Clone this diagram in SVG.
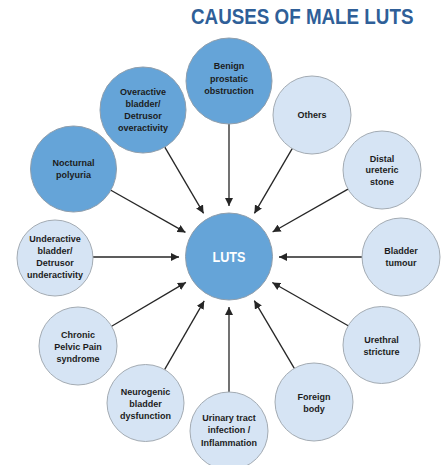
<svg xmlns="http://www.w3.org/2000/svg" width="445" height="465" viewBox="0 0 445 465">
<style>
.dk{fill:#65a4d8;stroke:#8f9eac;stroke-width:1}
.lt{fill:#d6e4f4;stroke:#a3abb3;stroke-width:1}
.t{font-family:"Liberation Sans",Arial,sans-serif;font-weight:bold;font-size:9px;fill:#1c1c1c;text-anchor:middle}
.c line{stroke:#262626;stroke-width:1.3;marker-end:url(#ah)}
</style>
<defs>
<marker id="ah" viewBox="0 0 10 10" refX="10" refY="5" markerWidth="8" markerHeight="8" markerUnits="userSpaceOnUse" orient="auto">
<path d="M0,0 L10,5 L0,10 z" fill="#262626"/>
</marker>
</defs>
<rect width="445" height="465" fill="#ffffff"/>
<text transform="translate(191,24) scale(0.855,1)" x="0" y="0" font-family="'Liberation Sans',Arial,sans-serif" font-weight="bold" font-size="22" fill="#2f5f98">CAUSES OF MALE LUTS</text>
<g class="c" id="connectors">
<line x1="229" y1="124" x2="229" y2="206"/>
<line x1="164.8" y1="147.1" x2="203.6" y2="213.4"/>
<line x1="292.2" y1="148.6" x2="254.4" y2="213.4"/>
<line x1="348" y1="189.1" x2="272.6" y2="232"/>
<line x1="362" y1="257" x2="279" y2="257"/>
<line x1="348.2" y1="325.8" x2="272.3" y2="282.5"/>
<line x1="294.3" y1="368.4" x2="254.3" y2="300.6"/>
<line x1="229" y1="392" x2="229" y2="307"/>
<line x1="164.6" y1="369.6" x2="204.2" y2="300.9"/>
<line x1="111.6" y1="326.2" x2="185.9" y2="282.4"/>
<line x1="93" y1="257" x2="179" y2="257"/>
<line x1="110.9" y1="190.2" x2="185.5" y2="232.4"/>
</g>
<g id="luts"><circle class="dk" cx="229" cy="256.5" r="43.5"/><text x="229" y="262" font-family="'Liberation Sans',Arial,sans-serif" font-weight="bold" font-size="14.5" fill="#ffffff" text-anchor="middle" textLength="33" lengthAdjust="spacingAndGlyphs">LUTS</text></g>
<g id="benign"><circle class="dk" cx="229" cy="81" r="43"/><text class="t" x="229" y="69">Benign<tspan x="229" dy="12.5">prostatic</tspan><tspan x="229" dy="12.5">obstruction</tspan></text></g>
<g id="overactive"><circle class="dk" cx="143" cy="110" r="43"/><text class="t" x="143" y="95">Overactive<tspan x="143" dy="12">bladder/</tspan><tspan x="143" dy="12.3">Detrusor</tspan><tspan x="143" dy="12">overactivity</tspan></text></g>
<g id="others"><circle class="lt" cx="312" cy="115" r="39"/><text class="t" x="312" y="118.3">Others</text></g>
<g id="distal"><circle class="lt" cx="382" cy="170" r="39"/><text class="t" x="382" y="161.6">Distal<tspan x="382" dy="11.8">ureteric</tspan><tspan x="382" dy="12">stone</tspan></text></g>
<g id="tumour"><circle class="lt" cx="401" cy="257" r="39"/><text class="t" x="401" y="254.3">Bladder<tspan x="401" dy="12">tumour</tspan></text></g>
<g id="urethral"><circle class="lt" cx="381.5" cy="345" r="38.5"/><text class="t" x="381.5" y="343.3">Urethral<tspan x="381.5" dy="11.7">stricture</tspan></text></g>
<g id="foreign"><circle class="lt" cx="314" cy="402" r="39"/><text class="t" x="314" y="400">Foreign<tspan x="314" dy="11.7">body</tspan></text></g>
<g id="uti"><circle class="lt" cx="229" cy="431" r="39"/><text class="t" x="229" y="421">Urinary tract<tspan x="229" dy="12.3">infection /</tspan><tspan x="229" dy="12.3">Inflammation</tspan></text></g>
<g id="neurogenic"><circle class="lt" cx="145.5" cy="403" r="38.5"/><text class="t" x="145.5" y="395">Neurogenic<tspan x="145.5" dy="12.2">bladder</tspan><tspan x="145.5" dy="12.2">dysfunction</tspan></text></g>
<g id="chronic"><circle class="lt" cx="78" cy="346" r="39"/><text class="t" x="78" y="337.6">Chronic<tspan x="78" dy="12.4">Pelvic Pain</tspan><tspan x="78" dy="12.3">syndrome</tspan></text></g>
<g id="underactive"><circle class="lt" cx="55" cy="258" r="38"/><text class="t" x="55" y="242.3">Underactive<tspan x="55" dy="11.8">bladder/</tspan><tspan x="55" dy="12">Detrusor</tspan><tspan x="55" dy="12.3">underactivity</tspan></text></g>
<g id="nocturnal"><circle class="dk" cx="73.5" cy="169" r="43"/><text class="t" x="73.5" y="166">Nocturnal<tspan x="73.5" dy="11.6">polyuria</tspan></text></g>
</svg>
